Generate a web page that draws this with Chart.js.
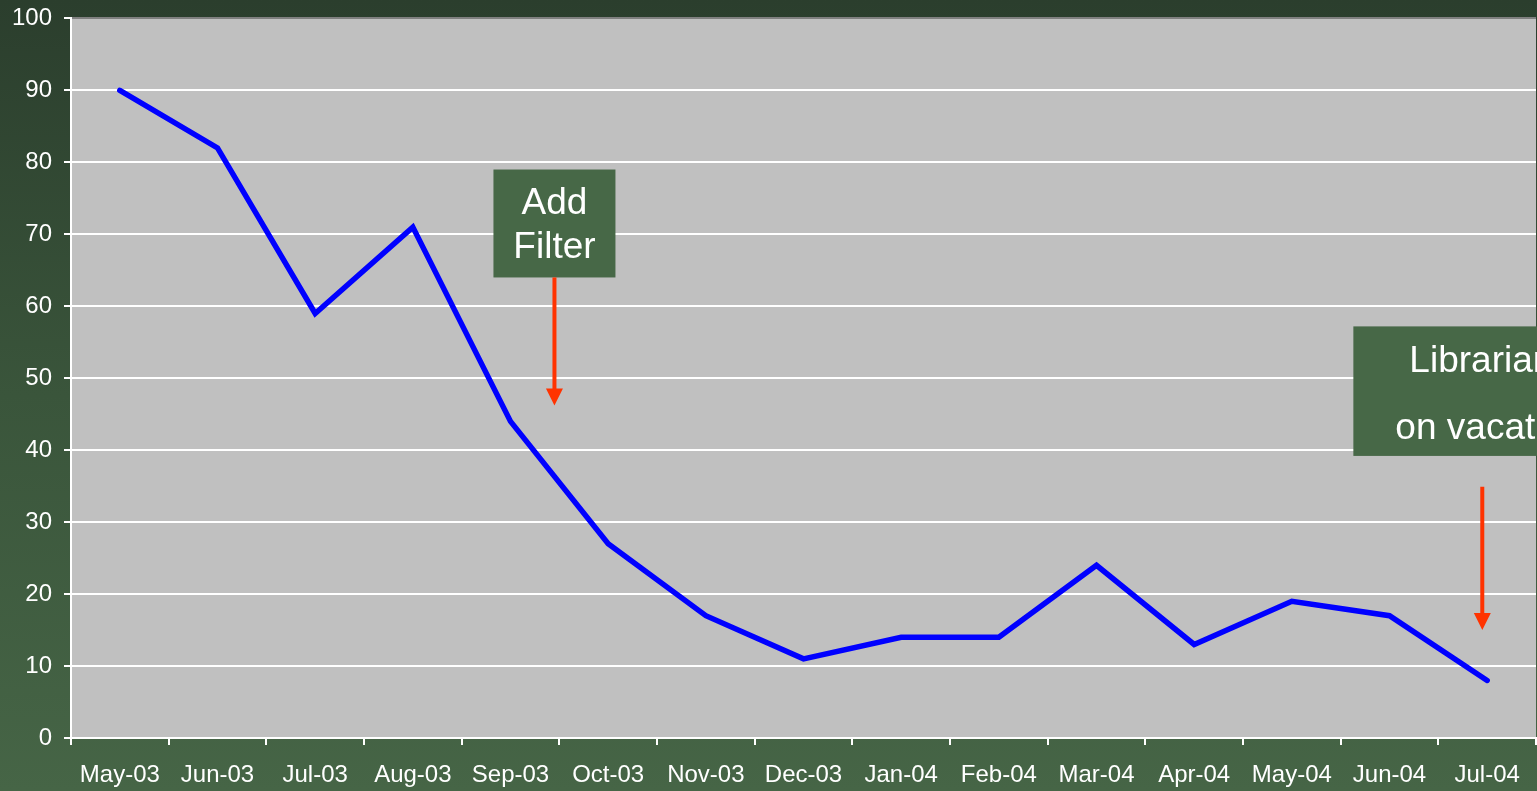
<!DOCTYPE html>
<html>
<head>
<meta charset="utf-8">
<script src="https://cdn.jsdelivr.net/npm/chart.js@4/dist/chart.umd.min.js"></script>
<style>
html,body{margin:0;padding:0;width:1537px;height:791px;overflow:hidden;
background:linear-gradient(to bottom,#2b3e2d 0%,#3a553b 50%,#466546 100%);}
#wrap{position:absolute;left:0;top:-8px;width:1537px;height:799px;}
</style>
</head>
<body>
<div id="wrap"><canvas id="c" width="1537" height="799"></canvas></div>
<script>
const categories = ["May-03","Jun-03","Jul-03","Aug-03","Sep-03","Oct-03","Nov-03","Dec-03","Jan-04","Feb-04","Mar-04","Apr-04","May-04","Jun-04","Jul-04"];
const values = [90,82,59,71,44,27,17,11,14,14,24,13,19,17,8];
const yTicks = [0,10,20,30,40,50,60,70,80,90,100];
const annotationTexts = [["Add","Filter"],["Librarian","on vacation"]];

const FONT = '"Liberation Sans", Arial, sans-serif';

const bgPlugin = {
  id:'plotbg',
  beforeDraw(chart){
    const {ctx, chartArea:a} = chart;
    ctx.save();
    ctx.fillStyle = '#c0c0c0';
    ctx.fillRect(a.left, a.top, a.right-a.left, a.bottom-a.top);
    ctx.restore();
  }
};

function arrow(ctx, x, y1, y2){
  ctx.save();
  ctx.strokeStyle = '#ff3300';
  ctx.fillStyle = '#ff3300';
  ctx.lineWidth = 4;
  ctx.beginPath();
  ctx.moveTo(x, y1);
  ctx.lineTo(x, y2-14);
  ctx.stroke();
  ctx.beginPath();
  ctx.moveTo(x-8.5, y2-17);
  ctx.lineTo(x+8.5, y2-17);
  ctx.lineTo(x, y2);
  ctx.closePath();
  ctx.fill();
  ctx.restore();
}

const annPlugin = {
  id:'ann',
  afterDraw(chart){
    const {ctx} = chart;
    const xs = chart.scales.x, ys = chart.scales.y;
    const step = xs.getPixelForValue(1) - xs.getPixelForValue(0);
    const xAt = v => xs.getPixelForValue(0) + v*step;
    ctx.save();
    // Add Filter box
    let cx = xAt(4.45);
    let t = ys.getPixelForValue(79.0), b = ys.getPixelForValue(64.0);
    ctx.fillStyle = '#476847';
    ctx.fillRect(cx-61, t, 122, b-t);
    ctx.fillStyle = '#ffffff';
    ctx.font = '37px ' + FONT;
    ctx.textAlign = 'center';
    ctx.textBaseline = 'middle';
    ctx.fillText(annotationTexts[0][0], cx, t+34);
    ctx.fillText(annotationTexts[0][1], cx, t+78);
    arrow(ctx, cx, b, ys.getPixelForValue(46.2));
    // Librarian box
    let t2 = ys.getPixelForValue(57.2), b2 = ys.getPixelForValue(39.2);
    let bx = xAt(12.63);
    ctx.fillStyle = '#476847';
    ctx.fillRect(bx, t2, 260, b2-t2);
    ctx.fillStyle = '#ffffff';
    ctx.textAlign = 'left';
    ctx.fillText(annotationTexts[1][0], bx+56, t2+35);
    ctx.fillText(annotationTexts[1][1], bx+42, t2+102);
    arrow(ctx, xAt(13.95), ys.getPixelForValue(34.9), ys.getPixelForValue(15.0));
    ctx.restore();
  }
};

new Chart(document.getElementById('c'), {
  type:'line',
  data:{
    labels: categories,
    datasets:[{
      data: values,
      borderColor:'#0000ff',
      borderWidth:5.5,
      pointRadius:0,
      tension:0,
      borderCapStyle:'round',
      borderJoinStyle:'miter',
      fill:false
    }]
  },
  options:{
    responsive:false,
    animation:false,
    devicePixelRatio:1,
    layout:{autoPadding:false, padding:{top:10,right:1,left:0,bottom:0}},
    plugins:{legend:{display:false},tooltip:{enabled:false}},
    scales:{
      x:{
        offset:true,
        grid:{offset:true, drawOnChartArea:false, drawTicks:true, tickLength:7, color:'#ffffff', lineWidth:2},
        border:{color:'#ffffff', width:2},
        ticks:{color:'#ffffff', font:{family:FONT, size:24}, padding:16, maxRotation:0, autoSkip:false},
        afterFit(s){ s.height = 53; }
      },
      y:{
        min:0, max:100,
        afterBuildTicks(s){ s.ticks = yTicks.map(v=>({value:v})); },
        grid:{color:c => c.tick && c.tick.value===100 ? '#808080' : '#ffffff', lineWidth:2, tickLength:7, tickColor:'#ffffff'},
        border:{color:'#ffffff', width:2},
        ticks:{color:'#ffffff', font:{family:FONT, size:24}, padding:12},
        afterFit(s){ s.width = 71; }
      }
    }
  },
  plugins:[bgPlugin, annPlugin]
});
</script>
</body>
</html>
